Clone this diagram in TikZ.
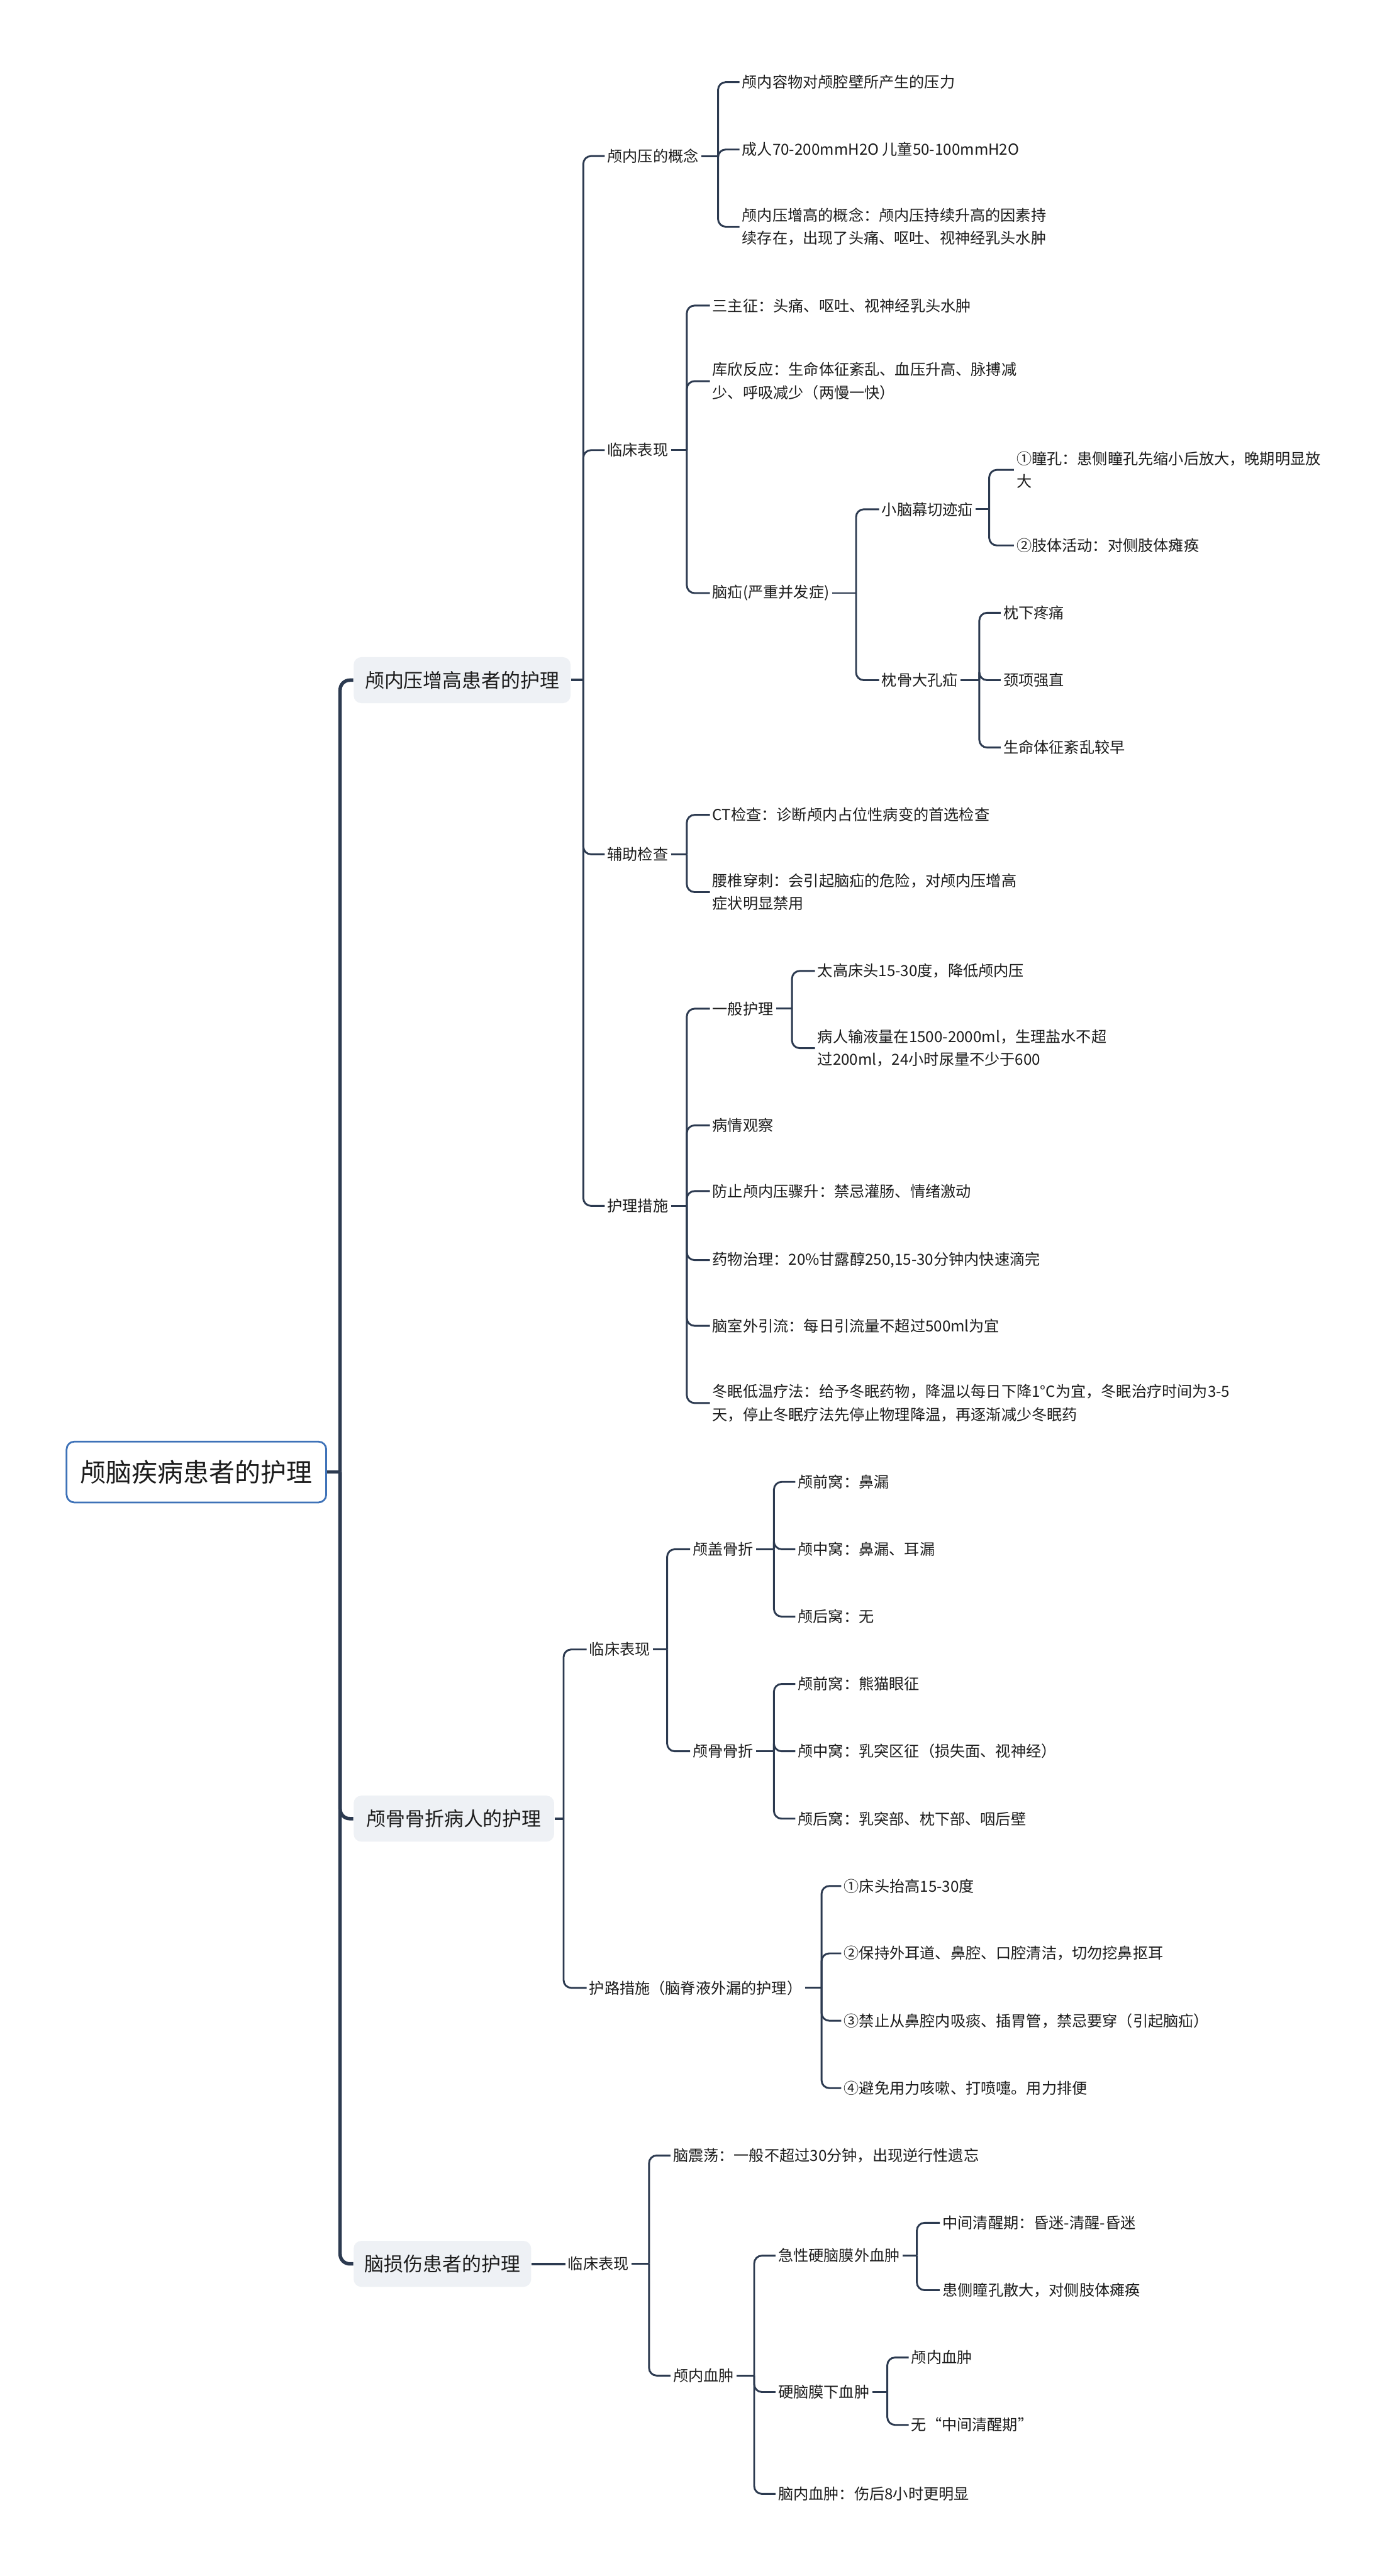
\documentclass[tikz,border=0pt]{standalone}
\usepackage{fontspec}
\setmainfont{Noto Sans CJK SC}
\usetikzlibrary{calc}
\definecolor{ln}{RGB}{44,58,80}
\definecolor{txt}{RGB}{28,28,28}
\definecolor{rootb}{RGB}{62,114,184}
\definecolor{lvfill}{RGB}{238,241,245}
\tikzset{
 leaf/.style={anchor=west, inner sep=1.2pt, text=txt, font=\fontsize{7.9}{11.9}\selectfont, align=left},
 conn/.style={draw=ln, line width=0.95pt, rounded corners=4pt},
 midconn/.style={draw=ln, line width=1.3pt, rounded corners=4pt},
 thickconn/.style={draw=ln, line width=1.8pt, rounded corners=5pt},
 rootbox/.style={anchor=west, draw=rootb, line width=0.9pt, fill=white, rounded corners=4pt, text=txt,
   font=\fontsize{13.4}{16}\selectfont, minimum width=47.4mm, minimum height=11.1mm, inner sep=0pt},
 lvbox/.style={anchor=west, fill=lvfill, rounded corners=4pt, text=txt,
   font=\fontsize{10.1}{12}\selectfont, minimum height=8.4mm, inner sep=0pt}
}
\newcommand\mmhub[3][conn]{\coordinate (#2T) at (#3,0);\coordinate (#2J) at (#2T |- #2.east);\draw[#1] (#2.east) -- (#2J);}
\newcommand\mmkid[3][conn]{\draw[#1] (#2J) |- (#3.west);}
\begin{document}
\begin{tikzpicture}[x=0.3mm,y=-0.3mm]
\useasboundingbox (0,0) rectangle (847,1568);
\fill[white] (0,0) rectangle (847,1568);

% root and level 1
\node[rootbox] (R) at (40,896) {颅脑疾病患者的护理};
\node[lvbox, minimum width=39.6mm] (A) at (215,414) {颅内压增高患者的护理};
\node[lvbox, minimum width=36.6mm] (B) at (215,1107) {颅骨骨折病人的护理};
\node[lvbox, minimum width=32.4mm] (C) at (215,1378) {脑损伤患者的护理};

% branch A
\node[leaf] (A1) at (368,95) {颅内压的概念};
\node[leaf] (A2) at (368,274) {临床表现};
\node[leaf] (A3) at (368,520) {辅助检查};
\node[leaf] (A4) at (368,734) {护理措施};

\node[leaf] (A1a) at (450,50) {颅内容物对颅腔壁所产生的压力};
\node[leaf] (A1b) at (450,91) {成人70-200mmH2O 儿童50-100mmH2O};
\node[leaf] (A1c) at (450,138) {颅内压增高的概念：颅内压持续升高的因素持\\续存在，出现了头痛、呕吐、视神经乳头水肿};

\node[leaf] (A2a) at (432,186) {三主征：头痛、呕吐、视神经乳头水肿};
\node[leaf] (A2b) at (432,232) {库欣反应：生命体征紊乱、血压升高、脉搏减\\少、呼吸减少（两慢一快）};
\node[leaf] (A2c) at (432,361) {脑疝(严重并发症)};

\node[leaf] (A2c1) at (535,310) {小脑幕切迹疝};
\node[leaf] (A2c2) at (535,414) {枕骨大孔疝};
\node[leaf] (A2c1a) at (617,286) {①瞳孔：患侧瞳孔先缩小后放大，晚期明显放\\大};
\node[leaf] (A2c1b) at (617,332) {②肢体活动：对侧肢体瘫痪};
\node[leaf] (A2c2a) at (609,373) {枕下疼痛};
\node[leaf] (A2c2b) at (609,414) {颈项强直};
\node[leaf] (A2c2c) at (609,455) {生命体征紊乱较早};

\node[leaf] (A3a) at (432,496) {CT检查：诊断颅内占位性病变的首选检查};
\node[leaf] (A3b) at (432,543) {腰椎穿刺：会引起脑疝的危险，对颅内压增高\\症状明显禁用};

\node[leaf] (A4a) at (432,614) {一般护理};
\node[leaf] (A4b) at (432,685) {病情观察};
\node[leaf] (A4c) at (432,725) {防止颅内压骤升：禁忌灌肠、情绪激动};
\node[leaf] (A4d) at (432,767) {药物治理：20\%甘露醇250,15-30分钟内快速滴完};
\node[leaf] (A4e) at (432,807) {脑室外引流：每日引流量不超过500ml为宜};
\node[leaf] (A4f) at (432,854) {冬眠低温疗法：给予冬眠药物，降温以每日下降1°C为宜，冬眠治疗时间为3-5\\天，停止冬眠疗法先停止物理降温，再逐渐减少冬眠药};
\node[leaf] (A4a1) at (496,591) {太高床头15-30度，降低颅内压};
\node[leaf] (A4a2) at (496,638) {病人输液量在1500-2000ml，生理盐水不超\\过200ml，24小时尿量不少于600};

% branch B
\node[leaf] (B1) at (357,1004) {临床表现};
\node[leaf] (B2) at (357,1210) {护路措施（脑脊液外漏的护理）};
\node[leaf] (B1a) at (420,943) {颅盖骨折};
\node[leaf] (B1b) at (420,1066) {颅骨骨折};
\node[leaf] (B1a1) at (484,902) {颅前窝：鼻漏};
\node[leaf] (B1a2) at (484,943) {颅中窝：鼻漏、耳漏};
\node[leaf] (B1a3) at (484,984) {颅后窝：无};
\node[leaf] (B1b1) at (484,1025) {颅前窝：熊猫眼征};
\node[leaf] (B1b2) at (484,1066) {颅中窝：乳突区征（损失面、视神经）};
\node[leaf] (B1b3) at (484,1107) {颅后窝：乳突部、枕下部、咽后壁};
\node[leaf] (B2a) at (512,1148) {①床头抬高15-30度};
\node[leaf] (B2b) at (512,1189) {②保持外耳道、鼻腔、口腔清洁，切勿挖鼻抠耳};
\node[leaf] (B2c) at (512,1230) {③禁止从鼻腔内吸痰、插胃管，禁忌要穿（引起脑疝）};
\node[leaf] (B2d) at (512,1271) {④避免用力咳嗽、打喷嚏。用力排便};

% branch C
\node[leaf] (C1) at (344,1378) {临床表现};
\node[leaf] (C1a) at (408,1312) {脑震荡：一般不超过30分钟，出现逆行性遗忘};
\node[leaf] (C1b) at (408,1446) {颅内血肿};
\node[leaf] (C1b1) at (472,1373) {急性硬脑膜外血肿};
\node[leaf] (C1b2) at (472,1456) {硬脑膜下血肿};
\node[leaf] (C1b3) at (472,1518) {脑内血肿：伤后8小时更明显};
\node[leaf] (C1b1a) at (572,1353) {中间清醒期：昏迷-清醒-昏迷};
\node[leaf] (C1b1b) at (572,1394) {患侧瞳孔散大，对侧肢体瘫痪};
\node[leaf] (C1b2a) at (553,1435) {颅内血肿};
\node[leaf] (C1b2b) at (553,1476) {无“中间清醒期”};

% connectors
\mmhub[thickconn]{R}{207}
\mmkid[thickconn]{R}{A}\mmkid[thickconn]{R}{B}\mmkid[thickconn]{R}{C}

\mmhub[midconn]{A}{355}
\mmkid{A}{A1}\mmkid{A}{A2}\mmkid{A}{A3}\mmkid{A}{A4}
\mmhub{A1}{437}
\mmkid{A1}{A1a}\mmkid{A1}{A1b}\mmkid{A1}{A1c}
\mmhub{A2}{418}
\mmkid{A2}{A2a}\mmkid{A2}{A2b}\mmkid{A2}{A2c}
\mmhub{A2c}{521}
\mmkid{A2c}{A2c1}\mmkid{A2c}{A2c2}
\mmhub{A2c1}{602}
\mmkid{A2c1}{A2c1a}\mmkid{A2c1}{A2c1b}
\mmhub{A2c2}{596}
\mmkid{A2c2}{A2c2a}\mmkid{A2c2}{A2c2b}\mmkid{A2c2}{A2c2c}
\mmhub{A3}{418}
\mmkid{A3}{A3a}\mmkid{A3}{A3b}
\mmhub{A4}{418}
\mmkid{A4}{A4a}\mmkid{A4}{A4b}\mmkid{A4}{A4c}\mmkid{A4}{A4d}\mmkid{A4}{A4e}\mmkid{A4}{A4f}
\mmhub{A4a}{482}
\mmkid{A4a}{A4a1}\mmkid{A4a}{A4a2}

\mmhub[midconn]{B}{343}
\mmkid{B}{B1}\mmkid{B}{B2}
\mmhub{B1}{406}
\mmkid{B1}{B1a}\mmkid{B1}{B1b}
\mmhub{B1a}{471}
\mmkid{B1a}{B1a1}\mmkid{B1a}{B1a2}\mmkid{B1a}{B1a3}
\mmhub{B1b}{471}
\mmkid{B1b}{B1b1}\mmkid{B1b}{B1b2}\mmkid{B1b}{B1b3}
\mmhub{B2}{500}
\mmkid{B2}{B2a}\mmkid{B2}{B2b}\mmkid{B2}{B2c}\mmkid{B2}{B2d}

\draw[midconn] (C.east) -- (C1.west);
\mmhub{C1}{395}
\mmkid{C1}{C1a}\mmkid{C1}{C1b}
\mmhub{C1b}{459}
\mmkid{C1b}{C1b1}\mmkid{C1b}{C1b2}\mmkid{C1b}{C1b3}
\mmhub{C1b1}{558}
\mmkid{C1b1}{C1b1a}\mmkid{C1b1}{C1b1b}
\mmhub{C1b2}{540}
\mmkid{C1b2}{C1b2a}\mmkid{C1b2}{C1b2b}
\end{tikzpicture}
\end{document}
